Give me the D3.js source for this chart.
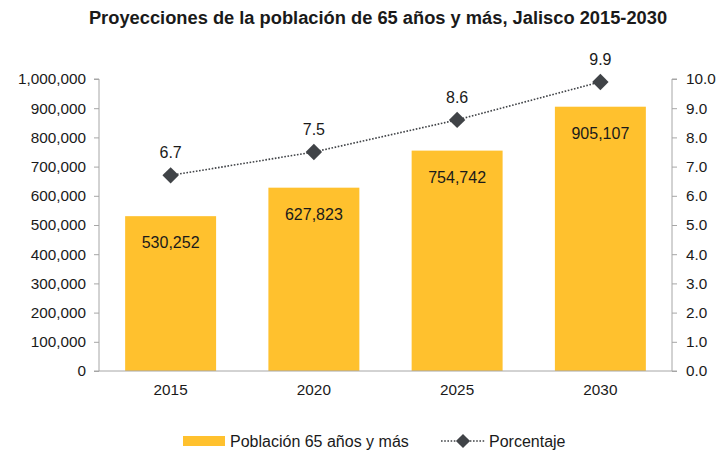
<!DOCTYPE html>
<html>
<head>
<meta charset="utf-8">
<script src="https://cdn.jsdelivr.net/npm/d3@7"></script>
<style>
  html, body { margin: 0; padding: 0; background: #fff; }
  svg text { font-family: "Liberation Sans", Arial, sans-serif; fill: #1a1a1a; }
</style>
</head>
<body>
<svg id="chart" width="720" height="455"></svg>
<script>
// Jalisco: population aged 65+ and its share of the total
const years = ["2015", "2020", "2025", "2030"];
const population = [530252, 627823, 754742, 905107];
const percentage = [6.7, 7.5, 8.6, 9.9];
const leftTicks = [0, 100000, 200000, 300000, 400000, 500000, 600000, 700000, 800000, 900000, 1000000];
const rightTicks = [0, 1, 2, 3, 4, 5, 6, 7, 8, 9, 10];

const svg = d3.select("#chart");
const margin = { top: 79, right: 48, bottom: 84, left: 99 };
const W = 720, H = 455;
const x0 = margin.left, x1 = W - margin.right;
const y0 = H - margin.bottom, y1 = margin.top;

const barColor = "#FFC12E";
const markColor = "#404347";
const axisColor = "#a6a6a6";
const tickFont = "15.3px";
const labelFont = "16px";

const x = d3.scaleBand().domain(years).range([x0, x1]).paddingInner(0.365).paddingOuter(0.1825);
const yL = d3.scaleLinear().domain([0, 1000000]).range([y0, y1]);
const yR = d3.scaleLinear().domain([0, 10]).range([y0, y1]);

const fmtInt = d3.format(",");
const fmt1 = d3.format(".1f");

// Title
svg.append("text")
  .attr("x", 378).attr("y", 24)
  .attr("text-anchor", "middle")
  .style("font-size", "18.3px").style("font-weight", "bold")
  .text("Proyecciones de la población de 65 años y más, Jalisco 2015-2030");

// Bars
svg.append("g").selectAll("rect").data(population).join("rect")
  .attr("x", (d, i) => x(years[i]))
  .attr("y", d => yL(d))
  .attr("width", x.bandwidth())
  .attr("height", d => y0 - yL(d))
  .attr("fill", barColor);

// Bar value labels
svg.append("g").selectAll("text").data(population).join("text")
  .attr("x", (d, i) => x(years[i]) + x.bandwidth() / 2)
  .attr("y", d => yL(d) + 32)
  .attr("text-anchor", "middle")
  .style("font-size", labelFont)
  .text(d => fmtInt(d));

const styleTicks = sel => sel.selectAll(".tick text")
  .style("font-size", tickFont).attr("fill", "#1a1a1a")
  .style("font-family", "Liberation Sans, Arial, sans-serif");

// Left axis
const axL = svg.append("g").attr("transform", `translate(${x0},0)`)
  .call(d3.axisLeft(yL).tickValues(leftTicks).tickSize(5).tickPadding(8).tickFormat(fmtInt));
axL.select(".domain").attr("stroke", axisColor).attr("d", `M-5,${y1}H0V${y0}H-5`);
axL.selectAll(".tick line").attr("stroke", axisColor);
styleTicks(axL);

// Right axis
const axR = svg.append("g").attr("transform", `translate(${x1},0)`)
  .call(d3.axisRight(yR).tickValues(rightTicks).tickSize(5).tickPadding(9).tickFormat(fmt1));
axR.select(".domain").attr("stroke", axisColor).attr("d", `M5,${y1}H0V${y0}H5`);
axR.selectAll(".tick line").attr("stroke", axisColor);
styleTicks(axR);

// Bottom axis
const axB = svg.append("g").attr("transform", `translate(0,${y0})`)
  .call(d3.axisBottom(x).tickSize(0).tickPadding(13));
axB.select(".domain").attr("stroke", axisColor).attr("d", `M${x0},0H${x1}`);
styleTicks(axB);

// Percentage line with diamond markers
const cx = (d, i) => x(years[i]) + x.bandwidth() / 2;
const line = d3.line().x(cx).y(d => yR(d));
svg.append("path")
  .datum(percentage)
  .attr("d", line)
  .attr("fill", "none")
  .attr("stroke", markColor)
  .attr("stroke-width", 1.6)
  .attr("stroke-dasharray", "1.6,1.6");

svg.append("g").selectAll("path").data(percentage).join("path")
  .attr("transform", (d, i) => `translate(${cx(d, i)},${yR(d)}) rotate(45)`)
  .attr("d", d3.symbol().type(d3.symbolSquare).size(135))
  .attr("fill", markColor);

svg.append("g").selectAll("text").data(percentage).join("text")
  .attr("x", cx)
  .attr("y", d => yR(d) - 17)
  .attr("text-anchor", "middle")
  .style("font-size", labelFont)
  .text(d => fmt1(d));

// Legend
const lg = svg.append("g");
lg.append("rect").attr("x", 183).attr("y", 436).attr("width", 42).attr("height", 10).attr("fill", barColor);
lg.append("text").attr("x", 230).attr("y", 447).style("font-size", labelFont).text("Población 65 años y más");
lg.append("line").attr("x1", 441).attr("x2", 485).attr("y1", 441).attr("y2", 441)
  .attr("stroke", markColor).attr("stroke-width", 1.6).attr("stroke-dasharray", "1.6,1.6");
lg.append("path").attr("transform", "translate(463,441) rotate(45)")
  .attr("d", d3.symbol().type(d3.symbolSquare).size(100)).attr("fill", markColor);
lg.append("text").attr("x", 489).attr("y", 447).style("font-size", labelFont).text("Porcentaje");
</script>
</body>
</html>
